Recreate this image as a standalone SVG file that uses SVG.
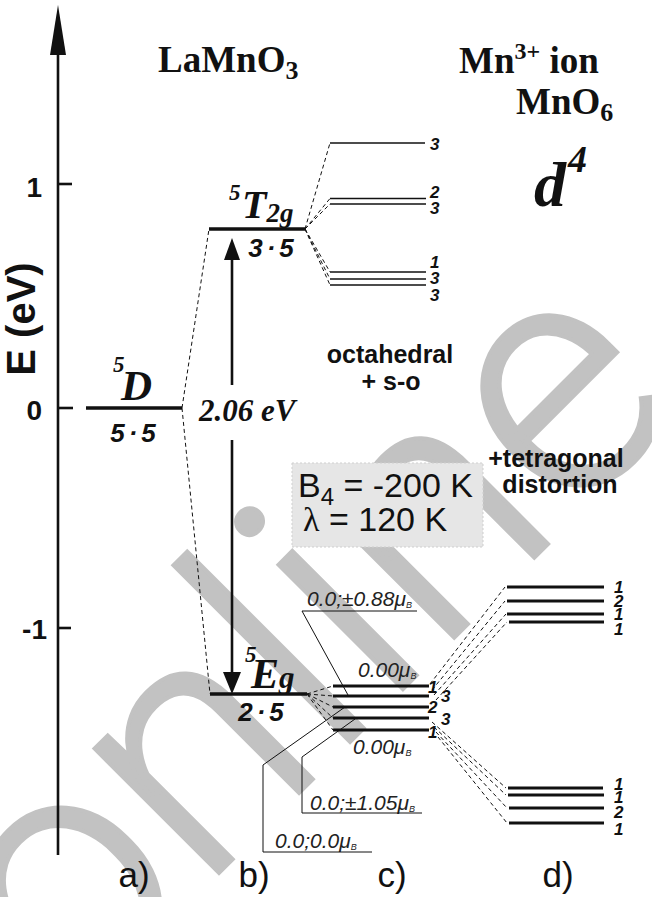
<svg xmlns="http://www.w3.org/2000/svg" width="652" height="897" viewBox="0 0 652 897">
<style>
.wm{font-family:Roboto,"Liberation Sans",Arial,sans-serif;font-weight:300;fill:#c2c2c2;stroke:#c2c2c2;stroke-width:4;stroke-linejoin:miter}
.lvl{stroke:#111;stroke-width:3.3;fill:none}
.lvlc{stroke:#111;stroke-width:3;fill:none}
.thin{stroke:#111;stroke-width:1.6;fill:none}
.dash{stroke:#111;stroke-width:1;stroke-dasharray:4 3;fill:none}
.lead{stroke:#111;stroke-width:1;fill:none}
.ax{stroke:#111;stroke-width:2.6;fill:none}
.sans{font-family:"Liberation Sans",Arial,sans-serif;fill:#111}
.bold{font-weight:bold}
.serif{font-family:"Liberation Serif","Times New Roman",serif;fill:#111;font-weight:bold}
.tbi{font-family:"Liberation Serif","Times New Roman",serif;fill:#111;font-weight:bold;font-style:italic}
.deg{font-family:"Liberation Sans",Arial,sans-serif;font-weight:bold;font-style:italic;font-size:17px;fill:#111}
.mult{font-family:"Liberation Sans",Arial,sans-serif;font-weight:bold;font-style:italic;font-size:26px;fill:#111;text-anchor:middle;letter-spacing:4px}
.mu{font-family:"Liberation Sans",Arial,sans-serif;font-style:italic;font-size:21px;fill:#222}
.lab{font-family:"Liberation Sans",Arial,sans-serif;font-size:35px;fill:#111;text-anchor:middle}
.lam{font-family:"Liberation Serif","Times New Roman",serif}
</style>
<rect width="652" height="897" fill="#fff"/>
<g id="watermark">
<text class="wm" transform="translate(69,1023) rotate(-45)" font-size="333">online</text>
</g>
<g id="axis">
<line class="ax" x1="58" y1="50" x2="58" y2="855"/>
<polygon points="58,5 50,55 66,55" fill="#111"/>
<line class="ax" x1="58" y1="184" x2="72" y2="184"/>
<line class="ax" x1="58" y1="408" x2="73" y2="408"/>
<line class="ax" x1="58" y1="628" x2="71" y2="628"/>
<text class="sans bold" x="42" y="197" font-size="28" text-anchor="end">1</text>
<text class="sans bold" x="42" y="420" font-size="28" text-anchor="end">0</text>
<text class="sans bold" x="47" y="639" font-size="28" text-anchor="end">-1</text>
<text class="sans bold" font-size="40" text-anchor="middle" transform="translate(35,319) rotate(-90)">E (eV)</text>
</g>
<g id="titles">
<text class="serif" x="158" y="72" font-size="37">LaMnO<tspan font-size="26" dy="7">3</tspan></text>
<text class="serif" x="459" y="73" font-size="37">Mn<tspan font-size="24" dy="-14">3+</tspan><tspan dy="14"> ion</tspan></text>
<text class="serif" x="516" y="114" font-size="37">MnO<tspan font-size="26" dy="7">6</tspan></text>
<text class="tbi" x="534" y="206" font-size="64">d</text>
<text class="tbi" x="568" y="172" font-size="38">4</text>
</g>
<g id="level-5D">
<line class="lvl" x1="86" y1="408" x2="182" y2="408"/>
<text class="tbi" x="113" y="372" font-size="23">5</text>
<text class="tbi" x="121" y="400" font-size="43">D</text>
<text class="mult" x="135" y="442">5·5</text>
</g>
<g id="level-5T2g">
<line class="lvl" x1="209" y1="229" x2="305" y2="229"/>
<text class="tbi" x="229" y="200" font-size="23">5</text>
<text class="tbi" x="242" y="218" font-size="40">T<tspan font-size="27" dy="4">2g</tspan></text>
<text class="mult" x="273" y="257">3·5</text>
</g>
<g id="level-5Eg">
<line class="lvl" x1="210" y1="694" x2="307" y2="694"/>
<text class="tbi" x="245" y="662" font-size="23">5</text>
<text class="tbi" x="251" y="688" font-size="42">E<tspan font-size="31">g</tspan></text>
<text class="mult" x="263" y="721">2·5</text>
</g>
<g id="gap-arrow">
<line class="ax" x1="232" y1="256" x2="232" y2="385" stroke-width="3"/>
<line class="ax" x1="232" y1="440" x2="232" y2="675" stroke-width="3"/>
<polygon points="232,238 224,260 240,260" fill="#111"/>
<polygon points="232,694 223,672 241,672" fill="#111"/>
<text class="tbi" x="199" y="421" font-size="31">2.06 eV</text>
</g>
<g id="t2g-split">
<line class="thin" x1="330" y1="143" x2="425" y2="143"/>
<line class="thin" x1="330" y1="198.5" x2="426" y2="198.5"/>
<line class="thin" x1="330" y1="204" x2="426" y2="204"/>
<line class="thin" x1="330" y1="272" x2="426" y2="272"/>
<line class="thin" x1="330" y1="279" x2="426" y2="279"/>
<line class="thin" x1="330" y1="285" x2="426" y2="285"/>
<text class="deg" x="430" y="150">3</text>
<text class="deg" x="430" y="198">2</text>
<text class="deg" x="430" y="214">3</text>
<text class="deg" x="430" y="268">1</text>
<text class="deg" x="430" y="284">3</text>
<text class="deg" x="430" y="301">3</text>
</g>
<g id="labels">
<text class="sans bold" x="390" y="363" font-size="25" text-anchor="middle">octahedral</text>
<text class="sans bold" x="391" y="390" font-size="25" text-anchor="middle">+ s-o</text>
<text class="sans bold" x="556" y="467" font-size="25" text-anchor="middle">+tetragonal</text>
<text class="sans bold" x="560" y="493" font-size="25" text-anchor="middle">distortion</text>
</g>
<g id="param-box">
<rect x="292" y="463" width="191" height="84" fill="#e6e6e6" stroke="#cfcfcf" stroke-width="1" stroke-dasharray="2 2"/>
<text class="sans" x="298" y="497" font-size="34">B<tspan font-size="24" dy="8">4</tspan><tspan dy="-8"> = -200 K</tspan></text>
<text class="sans" x="303" y="531" font-size="34"><tspan class="lam">λ</tspan> = 120 K</text>
</g>
<g id="eg-split">
<line class="lvlc" x1="333" y1="686" x2="429" y2="686"/>
<line class="lvlc" x1="333" y1="696" x2="429" y2="696"/>
<line class="lvlc" x1="333" y1="707" x2="429" y2="707"/>
<line class="lvlc" x1="333" y1="718" x2="429" y2="718"/>
<line class="lvlc" x1="333" y1="730" x2="429" y2="730"/>
<text class="deg" x="428" y="693">1</text>
<text class="deg" x="441" y="702">3</text>
<text class="deg" x="428" y="713">2</text>
<text class="deg" x="441" y="725">3</text>
<text class="deg" x="428" y="738">1</text>
<text class="mu" x="358" y="677">0.00μ<tspan font-size="9" dy="2">B</tspan></text>
<text class="mu" x="353" y="754">0.00μ<tspan font-size="9" dy="2">B</tspan></text>
<text class="mu" x="307" y="606">0.0;±0.88μ<tspan font-size="9" dy="2">B</tspan></text>
<text class="mu" x="310" y="810">0.0;±1.05μ<tspan font-size="9" dy="2">B</tspan></text>
<text class="mu" x="275" y="848">0.0;0.0μ<tspan font-size="9" dy="2">B</tspan></text>
</g>
<g id="tetragonal-split">
<line class="lvlc" x1="507" y1="587" x2="604" y2="587"/>
<line class="lvlc" x1="507" y1="601" x2="604" y2="601"/>
<line class="lvlc" x1="507" y1="614" x2="604" y2="614"/>
<line class="lvlc" x1="509" y1="622" x2="604" y2="622"/>
<line class="lvlc" x1="508" y1="788" x2="603" y2="788"/>
<line class="lvlc" x1="508" y1="795" x2="604" y2="795"/>
<line class="lvlc" x1="509" y1="808" x2="604" y2="808"/>
<line class="lvlc" x1="509" y1="823" x2="604" y2="823"/>
<text class="deg" x="614" y="593">1</text>
<text class="deg" x="614" y="607">2</text>
<text class="deg" x="614" y="620">1</text>
<text class="deg" x="614" y="635">1</text>
<text class="deg" x="614" y="790">1</text>
<text class="deg" x="614" y="803">1</text>
<text class="deg" x="614" y="818">2</text>
<text class="deg" x="614" y="835">1</text>
</g>
<g id="panel-labels">
<text class="lab" x="134" y="887">a)</text>
<text class="lab" x="254" y="887">b)</text>
<text class="lab" x="392" y="887">c)</text>
<text class="lab" x="558" y="887">d)</text>
</g>
<g id="connectors">
<line class="dash" x1="182" y1="408" x2="209" y2="229"/>
<line class="dash" x1="182" y1="408" x2="210" y2="694"/>
<line class="dash" x1="305" y1="229" x2="330" y2="143"/>
<line class="dash" x1="305" y1="229" x2="330" y2="198.5"/>
<line class="dash" x1="305" y1="229" x2="330" y2="204"/>
<line class="dash" x1="305" y1="229" x2="330" y2="272"/>
<line class="dash" x1="305" y1="229" x2="330" y2="279"/>
<line class="dash" x1="305" y1="229" x2="330" y2="285"/>
<line class="dash" x1="307" y1="694" x2="333" y2="686"/>
<line class="dash" x1="307" y1="694" x2="333" y2="696"/>
<line class="dash" x1="307" y1="694" x2="333" y2="707"/>
<line class="dash" x1="307" y1="694" x2="333" y2="718"/>
<line class="dash" x1="307" y1="694" x2="333" y2="730"/>
<line class="dash" x1="430" y1="684" x2="505" y2="587"/>
<line class="dash" x1="432" y1="690" x2="505" y2="601"/>
<line class="dash" x1="434" y1="695" x2="506" y2="614"/>
<line class="dash" x1="436" y1="700" x2="507" y2="622"/>
<line class="dash" x1="432" y1="722" x2="506" y2="788"/>
<line class="dash" x1="434" y1="727" x2="506" y2="795"/>
<line class="dash" x1="436" y1="732" x2="507" y2="808"/>
<line class="dash" x1="438" y1="737" x2="507" y2="823"/>
<polyline class="lead" points="417,611 302,611 348,695"/>
<polyline class="lead" points="422,813 302,813 302,757 355,719"/>
<polyline class="lead" points="372,852 263,852 263,765 345,707"/>
</g>
</svg>
